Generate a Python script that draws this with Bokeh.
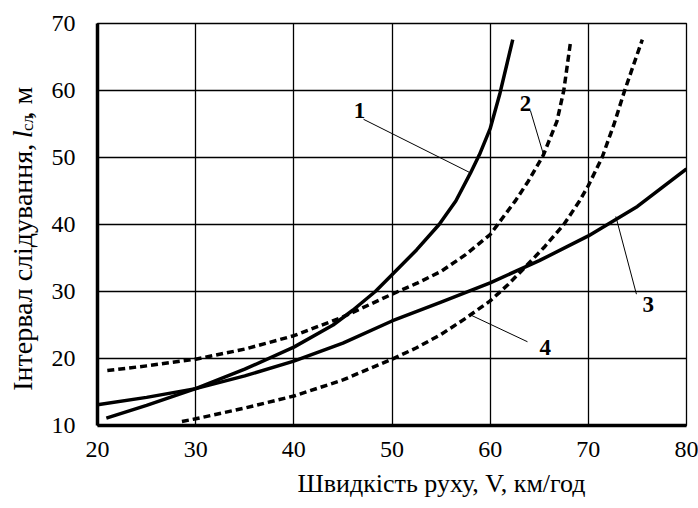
import math
from bokeh.plotting import figure
from bokeh.layouts import row
from bokeh.models import Range1d, FixedTicker, Title
from bokeh.core.properties import value
from bokeh.embed import file_html
from bokeh.resources import INLINE

# ---- data ----
x1 = [20.9, 25, 30, 35, 40, 44, 46, 48.3, 50, 52.5, 54.8, 56.5, 58, 58.9, 60, 61, 62.3]
y1 = [11.1, 13.0, 15.5, 18.4, 21.7, 25.0, 27.2, 30.0, 32.5, 36.2, 40.0, 43.5, 47.7, 50.4, 54.3, 59.6, 67.6]

x2 = [21, 25, 30, 35, 40, 45, 50, 52.5, 55, 57.5, 60, 62.6, 63.9, 65.4, 66.8, 67.5, 68.2]
y2 = [18.2, 18.9, 19.9, 21.4, 23.4, 26.2, 29.6, 31.2, 33.0, 35.5, 38.5, 43.6, 46.5, 50.3, 55.4, 60.0, 67.4]

x3 = [20, 25, 30, 35, 40, 45, 50, 55, 60, 65, 70, 75, 80]
y3 = [13.1, 14.2, 15.5, 17.4, 19.6, 22.3, 25.6, 28.4, 31.3, 34.6, 38.3, 42.7, 48.3]

x4 = [28.6, 30, 35, 40, 45, 50, 52.5, 55, 57.5, 60, 61.8, 63.6, 65.5, 67.5, 69.1, 70, 71.4, 72.6, 73.7, 75.5]
y4 = [10.6, 11.0, 12.6, 14.4, 16.8, 19.9, 21.6, 23.6, 26.0, 28.6, 31.0, 33.7, 36.6, 40.0, 43.5, 45.8, 50.0, 54.9, 60.0, 67.6]

x_ticks = [20, 30, 40, 50, 60, 70, 80]
y_ticks = [10, 20, 30, 40, 50, 60, 70]

curve_names = ["1", "2", "3", "4"]
name_x = [46.7, 63.6, 76.1, 65.6]
name_y = [57.0, 58.1, 28.0, 21.7]
lead_x0 = [47.1, 64.1, 74.9, 63.8]
lead_y0 = [55.7, 57.0, 29.6, 22.5]
lead_x1 = [58.0, 65.4, 72.8, 58.0]
lead_y1 = [47.7, 50.6, 41.2, 26.5]

x_title = "Швидкість руху, V,  км/год"
y_title_main = "Інтервал слідування,"
y_title_sym = "l"
y_title_sub = "сл"
y_title_unit = ",  м"

SERIF = "Liberation Serif"
H = 508
LW = 45  # width of the strip that carries the y title

# ---- y-title strip ----
lab = figure(width=LW, height=H, output_backend="svg", toolbar_location=None,
             x_range=Range1d(0, LW), y_range=Range1d(0, H),
             min_border=0, outline_line_color=None)
lab.axis.visible = False
lab.grid.visible = False
rot = math.pi / 2
YF = "28px"
lab.text(x=[22], y=[H - 152], text=[y_title_main], angle=rot, text_font=value(SERIF),
         text_font_size=YF, text_align="right", text_baseline="middle", text_color="black")
lab.text(x=[22], y=[H - 145], text=[y_title_sym], angle=rot, text_font=value(SERIF),
         text_font_style="italic", text_font_size=YF, text_align="left",
         text_baseline="middle", text_color="black")
lab.text(x=[27], y=[H - 136], text=[y_title_sub], angle=rot, text_font=value(SERIF),
         text_font_size="17px", text_align="left", text_baseline="middle", text_color="black")
lab.text(x=[22], y=[H - 120], text=[y_title_unit], angle=rot, text_font=value(SERIF),
         text_font_size=YF, text_align="left", text_baseline="middle", text_color="black")

# ---- main chart ----
p = figure(width=698 - LW, height=H, output_backend="svg", toolbar_location=None,
           x_range=Range1d(20, 80), y_range=Range1d(10, 70),
           min_border_left=97 - LW, min_border_right=12, min_border_top=23, min_border_bottom=83)
p.background_fill_color = "white"
p.border_fill_color = "white"
p.outline_line_color = "black"
p.outline_line_width = 1.3

for ax in (p.xaxis[0], p.yaxis[0]):
    ax.axis_line_width = 3.5
    ax.axis_line_color = "black"
    ax.major_tick_line_color = None
    ax.minor_tick_line_color = None
    ax.major_label_text_font = SERIF
    ax.major_label_text_font_size = "24px"
    ax.major_label_text_color = "black"

p.xaxis.ticker = FixedTicker(ticks=x_ticks)
p.yaxis.ticker = FixedTicker(ticks=y_ticks)
p.xaxis.major_label_standoff = 10
p.yaxis.major_label_standoff = 16

p.add_layout(Title(text=x_title, align="left", offset=200, standoff=14,
                   text_font=SERIF, text_font_size="26px", text_font_style="normal",
                   text_color="black"), "below")

p.xgrid.ticker = FixedTicker(ticks=x_ticks)
p.ygrid.ticker = FixedTicker(ticks=y_ticks)
for g in (p.xgrid[0], p.ygrid[0]):
    g.grid_line_color = "black"
    g.grid_line_width = 1.3

# curves
p.line(x1, y1, line_color="black", line_width=3.5, line_join="round")
p.line(x3, y3, line_color="black", line_width=3.5, line_join="round")
p.line(x2, y2, line_color="black", line_width=3.5, line_dash="7 4", line_join="round")
p.line(x4, y4, line_color="black", line_width=3.5, line_dash="7 4", line_join="round")

# leaders and curve numbers
p.segment(lead_x0, lead_y0, lead_x1, lead_y1, line_color="black", line_width=1)
p.text(name_x, name_y, text=curve_names, text_font=value(SERIF), text_font_style="bold",
       text_font_size="23px", text_align="center", text_baseline="middle", text_color="black")

layout = row(lab, p, spacing=0)
open("out.html", "w").write(file_html(layout, INLINE))
